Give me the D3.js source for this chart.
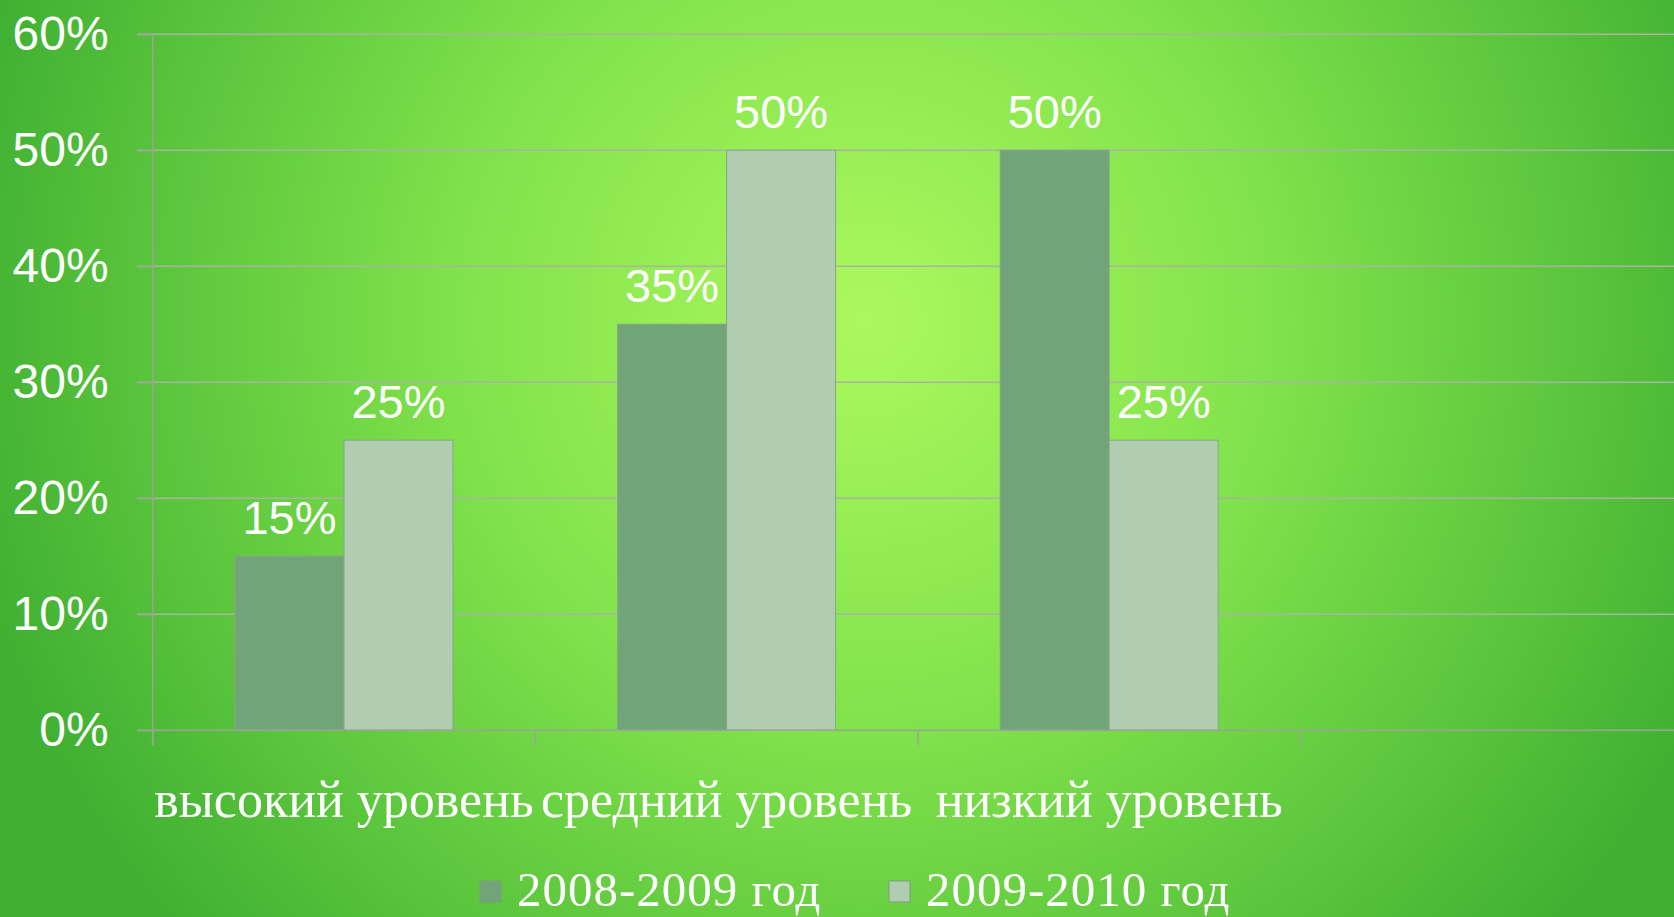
<!DOCTYPE html>
<html>
<head>
<meta charset="utf-8">
<script src="https://cdn.jsdelivr.net/npm/d3@7"></script>
<style>
  html, body { margin: 0; padding: 0; overflow: hidden; }
  svg { display: block; }
</style>
</head>
<body>
<svg id="chart" width="1674" height="917"></svg>
<script>
const categories = ["высокий уровень", "средний уровень", "низкий уровень"];
const seriesNames = ["2008-2009 год", "2009-2010 год"];
const values2008 = [15, 35, 50];
const values2009 = [25, 50, 25];
const yTickValues = [0, 10, 20, 30, 40, 50, 60];
const seriesColors = ["#72a47a", "#b0cdb1"];

(function () {
const W = 1674, H = 917;
const svg = d3.select("#chart");

// background radial gradient
const defs = svg.append("defs");
const rg = defs.append("radialGradient").attr("id", "bg")
  .attr("gradientUnits", "userSpaceOnUse")
  .attr("cx", 865).attr("cy", 320).attr("r", 920)
  .attr("fx", 865).attr("fy", 320);
rg.append("stop").attr("offset", "0%").attr("stop-color", "#acf85e");
rg.append("stop").attr("offset", "45%").attr("stop-color", "#80e24b");
rg.append("stop").attr("offset", "100%").attr("stop-color", "#40b032");
svg.append("rect").attr("width", W).attr("height", H).attr("fill", "url(#bg)");

const plotLeft = 152.7, plotTop = 34.2, plotBottom = 730.2;
const band = 382.6;
const x = d3.scaleBand().domain([...categories, ""]).range([plotLeft, plotLeft + 4 * band]).padding(0);
const xi = d3.scaleBand().domain(seriesNames).range([0, x.bandwidth()]).paddingInner(0).paddingOuter(0.755);
const y = d3.scaleLinear().domain([0, 60]).range([plotBottom, plotTop]);

// gridlines
svg.append("g").selectAll("line").data(yTickValues.filter(d => d > 0)).join("line")
  .attr("x1", 137).attr("x2", W)
  .attr("y1", d => y(d)).attr("y2", d => y(d))
  .attr("stroke", "#a9b3a5").attr("stroke-width", 1.5);

// y axis
const yAxis = d3.axisLeft(y).tickValues(yTickValues).tickFormat(d => d + "%").tickSize(15).tickPadding(30);
const ya = svg.append("g").attr("transform", `translate(${plotLeft},0)`).call(yAxis);
ya.select(".domain").attr("stroke", "#9aa596").attr("stroke-width", 1.5).attr("d", `M-15,${plotTop}H0V${plotBottom + 15}`);
ya.selectAll(".tick line").attr("stroke", "#9aa596").attr("stroke-width", 1.5);
ya.selectAll(".tick text").attr("fill", "#ffffff")
  .style("font-family", "'Liberation Sans', Arial, sans-serif").style("font-size", "48px")
  .attr("x", -44);

// bars
const rows = categories.map((c, i) => ({ cat: c, vals: [values2008[i], values2009[i]] }));
const g = svg.append("g").selectAll("g").data(rows).join("g")
  .attr("transform", d => `translate(${x(d.cat)},0)`);
g.selectAll("rect").data(d => d.vals.map((v, j) => ({ v, s: seriesNames[j], j }))).join("rect")
  .attr("x", d => xi(d.s)).attr("width", xi.bandwidth())
  .attr("y", d => y(d.v)).attr("height", d => y(0) - y(d.v))
  .attr("fill", d => seriesColors[d.j])
  .attr("stroke", "#86a786").attr("stroke-width", 1);
g.selectAll("text").data(d => d.vals.map((v, j) => ({ v, s: seriesNames[j], j }))).join("text")
  .attr("x", d => xi(d.s) + xi.bandwidth() / 2)
  .attr("y", d => y(d.v) - 22)
  .attr("text-anchor", "middle").attr("fill", "#ffffff")
  .style("font-family", "'Liberation Sans', Arial, sans-serif").style("font-size", "47px")
  .text(d => d.v + "%");

// x axis
const xa = svg.append("g").attr("transform", `translate(0,${plotBottom})`);
xa.append("line").attr("x1", 137).attr("x2", W).attr("y1", 0).attr("y2", 0)
  .attr("stroke", "#9aa596").attr("stroke-width", 1.5);
const boundaries = [...categories, ""].map(c => x(c));
xa.selectAll("line.tk").data(boundaries).join("line").attr("class", "tk")
  .attr("x1", d => d).attr("x2", d => d).attr("y1", 0).attr("y2", 15)
  .attr("stroke", "#9aa596").attr("stroke-width", 1.5);
xa.selectAll("text.cat").data(categories).join("text").attr("class", "cat")
  .attr("x", d => x(d) + x.bandwidth() / 2).attr("y", 87)
  .attr("text-anchor", "middle").attr("fill", "#ffffff")
  .style("font-family", "'Liberation Serif', 'DejaVu Serif', serif").style("font-size", "52px")
  .text(d => d);

// legend
const legendX = [480, 889];
const lg = svg.append("g").selectAll("g").data(seriesNames).join("g")
  .attr("transform", (d, i) => `translate(${legendX[i]},881)`);
lg.append("rect").attr("width", 21).attr("height", 21)
  .attr("fill", (d, i) => seriesColors[i]).attr("stroke", "#7f9b80").attr("stroke-width", 1);
lg.append("text").attr("x", 37).attr("y", 25).attr("fill", "#ffffff")
  .style("font-family", "'Liberation Serif', 'DejaVu Serif', serif").style("font-size", "49px")
  .style("letter-spacing", "1px")
  .text(d => d);
})();
</script>
</body>
</html>
